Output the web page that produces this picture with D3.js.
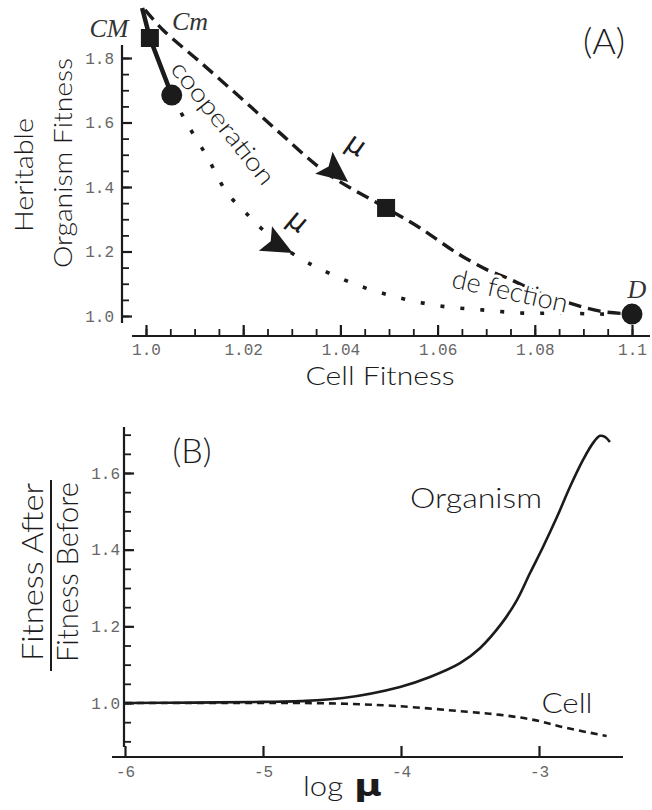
<!DOCTYPE html>
<html>
<head>
<meta charset="utf-8">
<script src="https://cdn.jsdelivr.net/npm/d3@7/dist/d3.min.js"></script>
<style>
  html, body { margin: 0; padding: 0; background: #fff; }
  svg { display: block; }
</style>
</head>
<body>
<script>
// ---------------- DATA ----------------
// Panel A: Cell fitness (x) vs heritable organism fitness (y)
const solidCMx = [0.9992, 1.0008, 1.0053];
const solidCMy = [1.955, 1.862, 1.685];

const dashedX = [0.9998, 1.0035, 1.0111, 1.0193, 1.0276, 1.0372, 1.0494, 1.0564, 1.0640, 1.0702, 1.0743, 1.0811, 1.0872, 1.0934, 1.1000];
const dashedY = [1.949, 1.887, 1.788, 1.679, 1.567, 1.443, 1.335, 1.273, 1.195, 1.143, 1.118, 1.071, 1.040, 1.015, 1.006];

const dottedX = [1.0053, 1.0084, 1.0126, 1.0167, 1.0198, 1.0226, 1.0276, 1.0323, 1.0362, 1.0440, 1.0523, 1.0605, 1.0691, 1.0776, 1.0852, 1.0934, 1.0975];
const dottedY = [1.685, 1.598, 1.493, 1.381, 1.332, 1.288, 1.220, 1.174, 1.143, 1.093, 1.056, 1.031, 1.019, 1.009, 1.009, 1.006, 1.006];

const squareX = [1.0008, 1.0494];
const squareY = [1.862, 1.335];
const circleX = [1.0053, 1.1000];
const circleY = [1.685, 1.006];

// arrow heads (tail point -> tip point, data coords)
const arrowTailX = [1.0372, 1.0251];
const arrowTailY = [1.468, 1.236];
const arrowTipX  = [1.0416, 1.0302];
const arrowTipY  = [1.4155, 1.195];

const xTicksA = [1.0, 1.02, 1.04, 1.06, 1.08, 1.1];
const xTickLabelsA = ["1.0", "1.02", "1.04", "1.06", "1.08", "1.1"];
const yTicksA = [1.0, 1.2, 1.4, 1.6, 1.8];
const yTickLabelsA = ["1.0", "1.2", "1.4", "1.6", "1.8"];

// Panel B: log mu vs Fitness After / Fitness Before
const orgX = [-6.0, -5.5, -5.0, -4.73, -4.42, -4.007, -3.790, -3.572, -3.428, -3.268, -3.159, -3.065, -2.971, -2.870, -2.775, -2.681, -2.609, -2.558, -2.522, -2.486];
const orgY = [1.000, 1.001, 1.003, 1.005, 1.013, 1.042, 1.068, 1.104, 1.143, 1.209, 1.269, 1.339, 1.407, 1.485, 1.564, 1.634, 1.678, 1.697, 1.694, 1.681];

const cellX = [-6.0, -5.0, -4.73, -4.40, -4.03, -3.52, -3.28, -3.04, -2.80, -2.51];
const cellY = [1.000, 1.000, 1.000, 0.998, 0.992, 0.977, 0.969, 0.956, 0.935, 0.914];

const xTicksB = [-6, -5, -4, -3];
const xTickLabelsB = ["-6", "-5", "-4", "-3"];
const yTicksB = [1.0, 1.2, 1.4, 1.6];
const yTickLabelsB = ["1.0", "1.2", "1.4", "1.6"];

// ---------------- DRAW ----------------
const W = 652, H = 810;
const INK = "#1b1b1b";
const TICKCOL = "#666";
const LFONT = "Lato, 'Open Sans', sans-serif";
const MONO = "'Liberation Mono', 'DejaVu Sans Mono', monospace";
const SERIF = "'Liberation Serif', 'DejaVu Serif', serif";

const svg = d3.select("body").append("svg").attr("width", W).attr("height", H);

// ===== Panel A =====
const xA = d3.scaleLinear().domain([1.0, 1.1]).range([146, 632]);
const yA = d3.scaleLinear().domain([1.0, 1.8]).range([316, 58]);
const gA = svg.append("g");

const axAy = 336, axAx = 122;
gA.append("line").attr("x1", 132).attr("x2", 650).attr("y1", axAy).attr("y2", axAy)
  .attr("stroke", INK).attr("stroke-width", 2.2);
gA.append("line").attr("x1", axAx).attr("x2", axAx).attr("y1", yA(0.978)).attr("y2", yA(1.84))
  .attr("stroke", INK).attr("stroke-width", 2.2);

const xMinorA = d3.range(0, 21).map(i => 1.0 + i * 0.005);
gA.append("g").attr("transform", `translate(0,${axAy})`)
  .call(d3.axisBottom(xA).tickValues(xMinorA).tickSize(-7).tickFormat(""))
  .call(g => g.select(".domain").remove())
  .call(g => g.selectAll("line").attr("stroke", INK).attr("stroke-width", 1.8));
gA.append("g").attr("transform", `translate(0,${axAy})`)
  .call(d3.axisBottom(xA).tickValues(xTicksA).tickSize(-11).tickPadding(8)
        .tickFormat((d, i) => xTickLabelsA[i]))
  .call(g => g.select(".domain").remove())
  .call(g => g.selectAll("line").attr("stroke", INK).attr("stroke-width", 2.2))
  .call(g => g.selectAll("text").attr("font-family", MONO).attr("font-size", 16).attr("fill", TICKCOL));

const yMinorA = d3.range(0, 17).map(i => 1.0 + i * 0.05);
gA.append("g").attr("transform", `translate(${axAx},0)`)
  .call(d3.axisLeft(yA).tickValues(yMinorA).tickSize(-7).tickFormat(""))
  .call(g => g.select(".domain").remove())
  .call(g => g.selectAll("line").attr("stroke", INK).attr("stroke-width", 1.8));
gA.append("g").attr("transform", `translate(${axAx},0)`)
  .call(d3.axisLeft(yA).tickValues(yTicksA).tickSize(-10).tickPadding(8)
        .tickFormat((d, i) => yTickLabelsA[i]))
  .call(g => g.select(".domain").remove())
  .call(g => g.selectAll("line").attr("stroke", INK).attr("stroke-width", 2.2))
  .call(g => g.selectAll("text").attr("font-family", MONO).attr("font-size", 16).attr("fill", TICKCOL));

const lineA = d3.line().x(d => xA(d[0])).y(d => yA(d[1])).curve(d3.curveCatmullRom.alpha(0.5));

gA.append("path").datum(dottedX.map((x, i) => [x, dottedY[i]]))
  .attr("d", lineA).attr("fill", "none").attr("stroke", INK)
  .attr("stroke-width", 3.6).attr("stroke-dasharray", "4,16").attr("stroke-linecap", "butt");

gA.append("path").datum(dashedX.map((x, i) => [x, dashedY[i]]))
  .attr("d", lineA).attr("fill", "none").attr("stroke", INK)
  .attr("stroke-width", 3.4).attr("stroke-dasharray", "13,7");

gA.append("path").datum(solidCMx.map((x, i) => [x, solidCMy[i]]))
  .attr("d", d3.line().x(d => xA(d[0])).y(d => yA(d[1])))
  .attr("fill", "none").attr("stroke", INK).attr("stroke-width", 4.5);

gA.selectAll("rect.sq").data(squareX.map((x, i) => [x, squareY[i]])).enter().append("rect")
  .attr("x", d => xA(d[0]) - 9).attr("y", d => yA(d[1]) - 9)
  .attr("width", 18).attr("height", 18).attr("fill", INK);
gA.selectAll("circle.ci").data(circleX.map((x, i) => [x, circleY[i]])).enter().append("circle")
  .attr("cx", d => xA(d[0])).attr("cy", d => yA(d[1])).attr("r", 10.5).attr("fill", INK);

arrowTipX.forEach((tx, i) => {
  const x1 = xA(arrowTailX[i]), y1 = yA(arrowTailY[i]);
  const x2 = xA(tx), y2 = yA(arrowTipY[i]);
  const ang = Math.atan2(y2 - y1, x2 - x1) * 180 / Math.PI;
  gA.append("path").attr("d", "M0,0 L-31,-14 L-25,0 L-31,14 Z")
    .attr("transform", `translate(${x2},${y2}) rotate(${ang})`).attr("fill", INK);
});

gA.append("text").attr("x", 351).attr("y", 152).attr("transform", "rotate(35,351,152)")
  .attr("text-anchor", "middle").attr("font-family", "'DejaVu Sans', sans-serif")
  .attr("font-size", 28).attr("fill", INK).text("μ");
gA.append("text").attr("x", 292).attr("y", 228).attr("transform", "rotate(40,292,228)")
  .attr("text-anchor", "middle").attr("font-family", "'DejaVu Sans', sans-serif")
  .attr("font-size", 28).attr("fill", INK).text("μ");

gA.append("text").attr("x", 224).attr("y", 122)
  .attr("transform", "rotate(51.5,224,122)")
  .attr("text-anchor", "middle").attr("dominant-baseline", "central")
  .attr("font-family", LFONT).attr("font-weight", 300).attr("font-size", 25)
  .attr("textLength", 150).attr("lengthAdjust", "spacingAndGlyphs")
  .attr("fill", INK).text("cooperation");

gA.append("text").attr("x", 508).attr("y", 300)
  .attr("transform", "rotate(12.5,508,300)")
  .attr("text-anchor", "middle")
  .attr("font-family", LFONT).attr("font-weight", 300).attr("font-size", 27)
  .attr("textLength", 118).attr("lengthAdjust", "spacingAndGlyphs")
  .attr("stroke", "#fff").attr("stroke-width", 6).attr("paint-order", "stroke")
  .attr("fill", INK).text("de fection");

gA.append("text").attr("x", 109).attr("y", 37).attr("text-anchor", "middle")
  .attr("font-family", SERIF).attr("font-style", "italic").attr("font-size", 26)
  .attr("fill", "#333").text("CM");
gA.append("text").attr("x", 190).attr("y", 30).attr("text-anchor", "middle")
  .attr("font-family", SERIF).attr("font-style", "italic").attr("font-size", 26)
  .attr("fill", "#333").text("Cm");
gA.append("text").attr("x", 637).attr("y", 298).attr("text-anchor", "middle")
  .attr("font-family", SERIF).attr("font-style", "italic").attr("font-size", 26)
  .attr("fill", "#333").text("D");

gA.append("text").attr("x", 604).attr("y", 54).attr("text-anchor", "middle")
  .attr("font-family", LFONT).attr("font-weight", 300).attr("font-size", 36)
  .attr("fill", INK).text("(A)");

gA.append("text").attr("x", 380).attr("y", 385).attr("text-anchor", "middle")
  .attr("font-family", LFONT).attr("font-weight", 300).attr("font-size", 25)
  .attr("textLength", 149).attr("lengthAdjust", "spacingAndGlyphs")
  .attr("fill", INK).text("Cell Fitness");
gA.append("text").attr("transform", "translate(33,175) rotate(-90)").attr("text-anchor", "middle")
  .attr("font-family", LFONT).attr("font-weight", 300).attr("font-size", 25)
  .attr("textLength", 114).attr("lengthAdjust", "spacingAndGlyphs")
  .attr("fill", INK).text("Heritable");
gA.append("text").attr("transform", "translate(72,163) rotate(-90)").attr("text-anchor", "middle")
  .attr("font-family", LFONT).attr("font-weight", 300).attr("font-size", 25)
  .attr("textLength", 210).attr("lengthAdjust", "spacingAndGlyphs")
  .attr("fill", INK).text("Organism Fitness");

// ===== Panel B =====
const xB = d3.scaleLinear().domain([-6, -3]).range([125, 539]);
const yB = d3.scaleLinear().domain([1.0, 1.6]).range([703, 473]);
const gB = svg.append("g");
const axBy = 757, axBx = 124;

gB.append("line").attr("x1", 112).attr("x2", 623).attr("y1", axBy).attr("y2", axBy)
  .attr("stroke", INK).attr("stroke-width", 2.2);
gB.append("line").attr("x1", axBx).attr("x2", axBx).attr("y1", yB(0.885)).attr("y2", yB(1.72))
  .attr("stroke", INK).attr("stroke-width", 2.2);

gB.append("g").attr("transform", `translate(0,${axBy})`)
  .call(d3.axisBottom(xB).tickValues(xTicksB).tickSize(-11).tickPadding(9)
        .tickFormat((d, i) => xTickLabelsB[i]))
  .call(g => g.select(".domain").remove())
  .call(g => g.selectAll("line").attr("stroke", INK).attr("stroke-width", 2.2))
  .call(g => g.selectAll("text").attr("font-family", MONO).attr("font-size", 16).attr("fill", TICKCOL));

const yMinorB = d3.range(0, 17).map(i => 0.9 + i * 0.05);
gB.append("g").attr("transform", `translate(${axBx},0)`)
  .call(d3.axisLeft(yB).tickValues(yMinorB).tickSize(-7).tickFormat(""))
  .call(g => g.select(".domain").remove())
  .call(g => g.selectAll("line").attr("stroke", INK).attr("stroke-width", 1.8));
gB.append("g").attr("transform", `translate(${axBx},0)`)
  .call(d3.axisLeft(yB).tickValues(yTicksB).tickSize(-10).tickPadding(4)
        .tickFormat((d, i) => yTickLabelsB[i]))
  .call(g => g.select(".domain").remove())
  .call(g => g.selectAll("line").attr("stroke", INK).attr("stroke-width", 2.2))
  .call(g => g.selectAll("text").attr("font-family", MONO).attr("font-size", 16).attr("fill", TICKCOL));

const lineB = d3.line().x(d => xB(d[0])).y(d => yB(d[1])).curve(d3.curveCatmullRom.alpha(0.5));
gB.append("path").datum(cellX.map((x, i) => [x, cellY[i]]))
  .attr("d", lineB).attr("fill", "none").attr("stroke", INK)
  .attr("stroke-width", 2.6).attr("stroke-dasharray", "7,5");
gB.append("path").datum(orgX.map((x, i) => [x, orgY[i]]))
  .attr("d", lineB).attr("fill", "none").attr("stroke", INK).attr("stroke-width", 2.6);

gB.append("text").attr("x", 476).attr("y", 508).attr("text-anchor", "middle")
  .attr("font-family", LFONT).attr("font-weight", 300).attr("font-size", 28)
  .attr("textLength", 132).attr("lengthAdjust", "spacingAndGlyphs")
  .attr("fill", INK).text("Organism");
gB.append("text").attr("x", 567).attr("y", 713).attr("text-anchor", "middle")
  .attr("font-family", LFONT).attr("font-weight", 300).attr("font-size", 28)
  .attr("textLength", 51).attr("lengthAdjust", "spacingAndGlyphs")
  .attr("fill", INK).text("Cell");

gB.append("text").attr("x", 192).attr("y", 463).attr("text-anchor", "middle")
  .attr("font-family", LFONT).attr("font-weight", 300).attr("font-size", 34)
  .attr("fill", INK).text("(B)");

gB.append("text").attr("x", 323).attr("y", 796).attr("text-anchor", "middle")
  .attr("font-family", LFONT).attr("font-weight", 300).attr("font-size", 27)
  .attr("textLength", 40).attr("lengthAdjust", "spacingAndGlyphs")
  .attr("fill", INK).text("log");
gB.append("text").attr("x", 368).attr("y", 796).attr("text-anchor", "middle")
  .attr("font-family", "'DejaVu Sans', sans-serif").attr("font-weight", "bold").attr("font-size", 30)
  .attr("textLength", 28).attr("lengthAdjust", "spacingAndGlyphs")
  .attr("fill", INK).text("μ");

gB.append("text").attr("transform", "translate(43,572) rotate(-90)").attr("text-anchor", "middle")
  .attr("font-family", LFONT).attr("font-weight", 300).attr("font-size", 30)
  .attr("textLength", 178).attr("lengthAdjust", "spacingAndGlyphs")
  .attr("fill", INK).text("Fitness After");
gB.append("line").attr("x1", 51).attr("x2", 51).attr("y1", 480).attr("y2", 671)
  .attr("stroke", INK).attr("stroke-width", 2);
gB.append("text").attr("transform", "translate(78,572) rotate(-90)").attr("text-anchor", "middle")
  .attr("font-family", LFONT).attr("font-weight", 300).attr("font-size", 30)
  .attr("textLength", 180).attr("lengthAdjust", "spacingAndGlyphs")
  .attr("fill", INK).text("Fitness Before");
</script>
</body>
</html>
